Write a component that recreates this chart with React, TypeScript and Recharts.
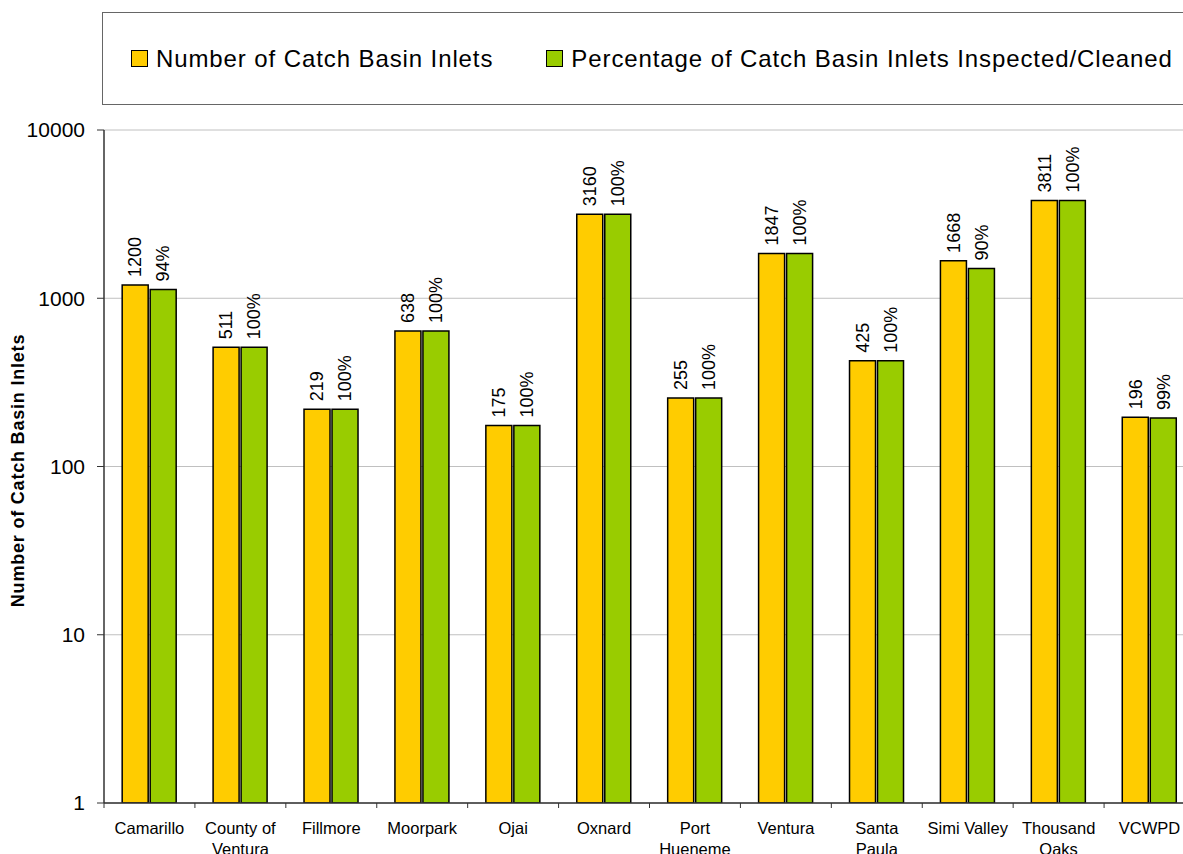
import React from 'react'
import { BarChart, Bar, XAxis, YAxis, CartesianGrid, Legend, LabelList, Label } from 'recharts'

const FONT = '"Liberation Sans", Arial, sans-serif'

const categories = [
  'Camarillo', 'County of Ventura', 'Fillmore', 'Moorpark', 'Ojai', 'Oxnard',
  'Port Hueneme', 'Ventura', 'Santa Paula', 'Simi Valley', 'Thousand Oaks', 'VCWPD',
]
const tickLines = [
  ['Camarillo'], ['County of', 'Ventura'], ['Fillmore'], ['Moorpark'], ['Ojai'], ['Oxnard'],
  ['Port', 'Hueneme'], ['Ventura'], ['Santa', 'Paula'], ['Simi Valley'], ['Thousand', 'Oaks'], ['VCWPD'],
]
const inletCounts = [1200, 511, 219, 638, 175, 3160, 255, 1847, 425, 1668, 3811, 196]
const inspectedCounts = [1128, 511, 219, 638, 175, 3160, 255, 1847, 425, 1501, 3811, 194]
const inspectedPct = ['94%', '100%', '100%', '100%', '100%', '100%', '100%', '100%', '100%', '90%', '100%', '99%']
const yTicks = [1, 10, 100, 1000, 10000]

const data = categories.map((name, i) => ({
  name,
  inlets: inletCounts[i],
  inspected: inspectedCounts[i],
}))

const CHART_W = 1200
const CHART_H = 854
const MARGIN = { top: 130, right: 5, bottom: 0, left: 0 }
const Y_W = 104
const HALF_BAND = (CHART_W - MARGIN.right - MARGIN.left - Y_W) / categories.length / 2

const CategoryTick = ({ x, y, index }: any) => {
  const lines = tickLines[index] ?? []
  return (
    <g>
      <line x1={x - HALF_BAND} x2={x - HALF_BAND} y1={y - 5} y2={y} stroke="#333" strokeWidth={1} />
      {lines.map((line, i) => (
        <text key={i} x={x} y={y + 26 + i * 21} textAnchor="middle" fontSize={16.5} fontFamily={FONT} fill="#000">
          {line}
        </text>
      ))}
    </g>
  )
}

const makeBarLabel = (texts: string[]) => ({ x, y, width, index }: any) => {
  const cx = x + width / 2
  const ty = y - 8
  return (
    <text
      x={cx}
      y={ty}
      dy="0.35em"
      transform={`rotate(-90 ${cx} ${ty})`}
      textAnchor="start"
      fontSize={18}
      fontFamily={FONT}
      fill="#000"
    >
      {texts[index]}
    </text>
  )
}

const renderLegend = ({ payload }: any) => (
  <div
    style={{
      boxSizing: 'border-box',
      height: 93,
      border: '1.5px solid #666',
      display: 'flex',
      alignItems: 'center',
      paddingLeft: 28,
      fontFamily: FONT,
      fontSize: 24,
      letterSpacing: 0.9,
      color: '#000',
      whiteSpace: 'nowrap',
    }}
  >
    {(payload ?? []).map((entry: any, i: number) => (
      <div key={i} style={{ display: 'flex', alignItems: 'center', marginRight: 53 }}>
        <span
          style={{
            boxSizing: 'border-box',
            width: 17,
            height: 17,
            border: '1.5px solid #000',
            background: entry.color,
            marginRight: 8,
            display: 'inline-block',
          }}
        />
        <span>{entry.value}</span>
      </div>
    ))}
  </div>
)

const renderYLabel = ({ viewBox }: any) => {
  const cx = 17.5
  const cy = viewBox.y + viewBox.height / 2 + 4
  return (
    <text
      x={cx}
      y={cy}
      dy="0.35em"
      transform={`rotate(-90 ${cx} ${cy})`}
      textAnchor="middle"
      fontSize={18}
      fontWeight="bold"
      letterSpacing={0.8}
      fontFamily={FONT}
      fill="#000"
    >
      Number of Catch Basin Inlets
    </text>
  )
}

export default function App() {
  return (
    <div style={{ position: 'fixed', left: 0, top: 0, width: 1183, height: 854, overflow: 'hidden', background: '#fff' }}>
      <BarChart
        width={CHART_W}
        height={CHART_H}
        data={data}
        margin={MARGIN}
        barCategoryGap="20%"
        barGap={2}
      >
        <CartesianGrid vertical={false} stroke="#C0C0C0" />
        <XAxis
          dataKey="name"
          height={51}
          interval={0}
          tickLine={false}
          tickSize={5}
          tickMargin={0}
          axisLine={{ stroke: '#333', strokeWidth: 1.5 }}
          tick={<CategoryTick />}
        />
        <YAxis
          scale="log"
          domain={[1, 10000]}
          ticks={yTicks}
          allowDataOverflow
          width={Y_W}
          tickSize={7}
          tickMargin={12}
          axisLine={{ stroke: '#333', strokeWidth: 1.5 }}
          tickLine={{ stroke: '#333' }}
          tick={{ fontSize: 21, fontFamily: FONT, fill: '#000' }}
        >
          <Label content={renderYLabel} />
        </YAxis>
        <Legend
          layout="vertical"
          align="center"
          verticalAlign="middle"
          content={renderLegend}
          wrapperStyle={{ top: 12, left: 102, width: 1100 }}
        />
        <Bar
          dataKey="inlets"
          name="Number of Catch Basin Inlets"
          fill="#FFCC00"
          stroke="#000"
          strokeWidth={1.5}
          isAnimationActive={false}
        >
          <LabelList dataKey="inlets" content={makeBarLabel(inletCounts.map(String))} />
        </Bar>
        <Bar
          dataKey="inspected"
          name="Percentage of Catch Basin Inlets Inspected/Cleaned"
          fill="#99CC00"
          stroke="#000"
          strokeWidth={1.5}
          isAnimationActive={false}
        >
          <LabelList dataKey="inspected" content={makeBarLabel(inspectedPct)} />
        </Bar>
      </BarChart>
    </div>
  )
}
